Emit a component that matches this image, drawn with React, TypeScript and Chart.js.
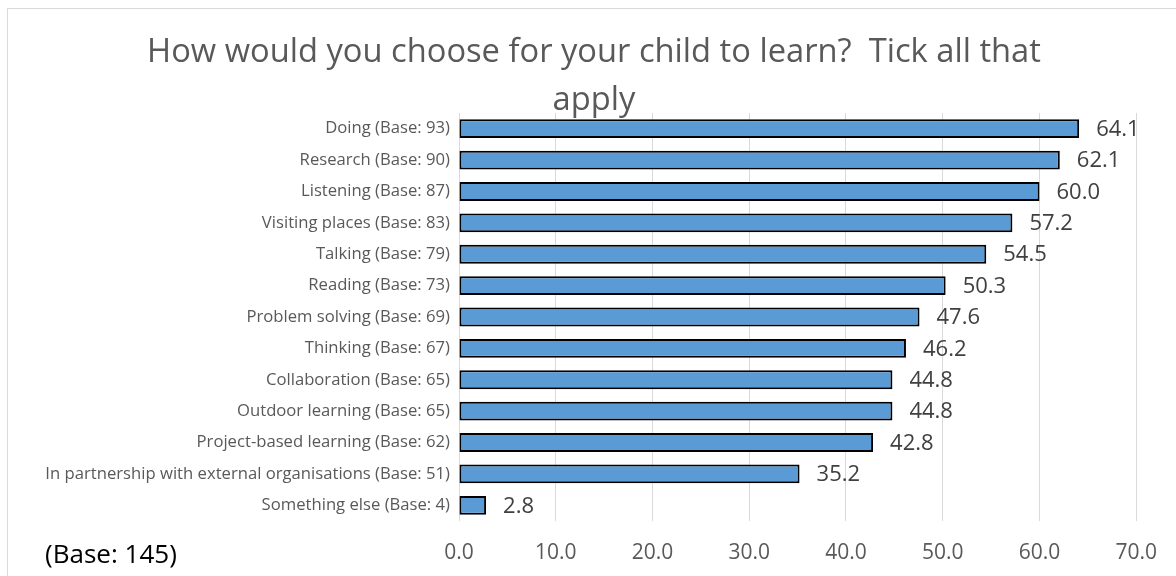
import React, { useEffect, useRef } from "react";
import { Chart, registerables } from "chart.js";

Chart.register(...registerables);

const categories = [
  "Doing (Base: 93)",
  "Research (Base: 90)",
  "Listening (Base: 87)",
  "Visiting places (Base: 83)",
  "Talking (Base: 79)",
  "Reading (Base: 73)",
  "Problem solving (Base: 69)",
  "Thinking (Base: 67)",
  "Collaboration (Base: 65)",
  "Outdoor learning (Base: 65)",
  "Project-based learning (Base: 62)",
  "In partnership with external organisations (Base: 51)",
  "Something else (Base: 4)",
];
const values = [64.1, 62.1, 60.0, 57.2, 54.5, 50.3, 47.6, 46.2, 44.8, 44.8, 42.8, 35.2, 2.8];
const titleLines = ["How would you choose for your child to learn?  Tick all that", "apply"];
const baseNote = "(Base: 145)";
const xMin = 0;
const xMax = 70;
const xStep = 10;

const FONT = "'Open Sans', 'Noto Sans', sans-serif";

function fitSize(text: string, target: number, fallback: number): number {
  const c = document.createElement("canvas");
  const ctx = c.getContext("2d");
  if (!ctx) return fallback;
  ctx.font = `100px ${FONT}`;
  const w = ctx.measureText(text).width;
  if (!w) return fallback;
  return (100 * target) / w;
}

export default function App() {
  const ref = useRef<HTMLCanvasElement>(null);
  useEffect(() => {
    if (!ref.current) return;
    const titleSize = fitSize(titleLines[0], 894, 32);
    const labelSize = fitSize(categories[11], 405, 16.7);
    const noteSize = fitSize(baseNote, 132, 26);
    const dataSize = 22;
    const tickSize = 21;

    const decorPlugin = {
      id: "decor",
      beforeDraw(chart: any) {
        const ctx = chart.ctx;
        ctx.save();
        ctx.fillStyle = "#ffffff";
        ctx.fillRect(0, 0, chart.width, chart.height);
        ctx.strokeStyle = "#d9d9d9";
        ctx.lineWidth = 1;
        ctx.strokeRect(7.5, 8.5, chart.width + 20, chart.height + 20);
        ctx.restore();
      },
      afterDraw(chart: any) {
        const ctx = chart.ctx;
        ctx.save();
        ctx.fillStyle = "#595959";
        ctx.font = `${titleSize}px ${FONT}`;
        ctx.textAlign = "center";
        ctx.textBaseline = "alphabetic";
        ctx.fillText(titleLines[0], 594, 62);
        ctx.fillText(titleLines[1], 594, 109.5);
        ctx.fillStyle = "#000000";
        ctx.font = `${noteSize}px ${FONT}`;
        ctx.textAlign = "left";
        ctx.textBaseline = "middle";
        ctx.fillText(baseNote, 45, 556);
        const meta = chart.getDatasetMeta(0);
        ctx.fillStyle = "#404040";
        ctx.font = `${dataSize}px ${FONT}`;
        meta.data.forEach((bar: any, i: number) => {
          ctx.fillText(values[i].toFixed(1), bar.x + 17, bar.y + 1);
        });
        ctx.restore();
      },
    };

    const chart = new Chart(ref.current, {
      type: "bar",
      data: {
        labels: categories,
        datasets: [
          {
            data: values,
            backgroundColor: "#5b9bd5",
            borderColor: "#000000",
            borderWidth: 2,
            borderSkipped: false,
            barPercentage: 0.6,
            categoryPercentage: 1,
          },
        ],
      },
      options: {
        indexAxis: "y",
        animation: false,
        responsive: false,
        maintainAspectRatio: false,
        layout: { padding: { top: 113, right: 39, bottom: 0, left: 0 } },
        plugins: {
          legend: { display: false },
          title: { display: false },
          tooltip: { enabled: false },
        },
        scales: {
          x: {
            min: xMin,
            max: xMax,
            ticks: {
              stepSize: xStep,
              padding: 19,
              color: "#595959",
              font: { family: FONT, size: tickSize },
              callback: (v: any) => Number(v).toFixed(1),
            },
            grid: { color: "#d9d9d9", lineWidth: 1, drawTicks: false },
            border: { display: false },
            afterFit: (s: any) => {
              s.height = 55;
            },
          },
          y: {
            ticks: {
              padding: 9,
              color: "#595959",
              font: { family: FONT, size: labelSize },
              autoSkip: false,
            },
            grid: { display: false, drawTicks: false },
            border: { display: false },
            afterFit: (s: any) => {
              s.width = 459;
            },
          },
        },
      },
      plugins: [decorPlugin],
    });
    return () => chart.destroy();
  }, []);
  return (
    <div style={{ position: "absolute", left: 0, top: 0, width: 1176, height: 576 }}>
      <canvas ref={ref} width={1176} height={576} style={{ display: "block" }} />
    </div>
  );
}
